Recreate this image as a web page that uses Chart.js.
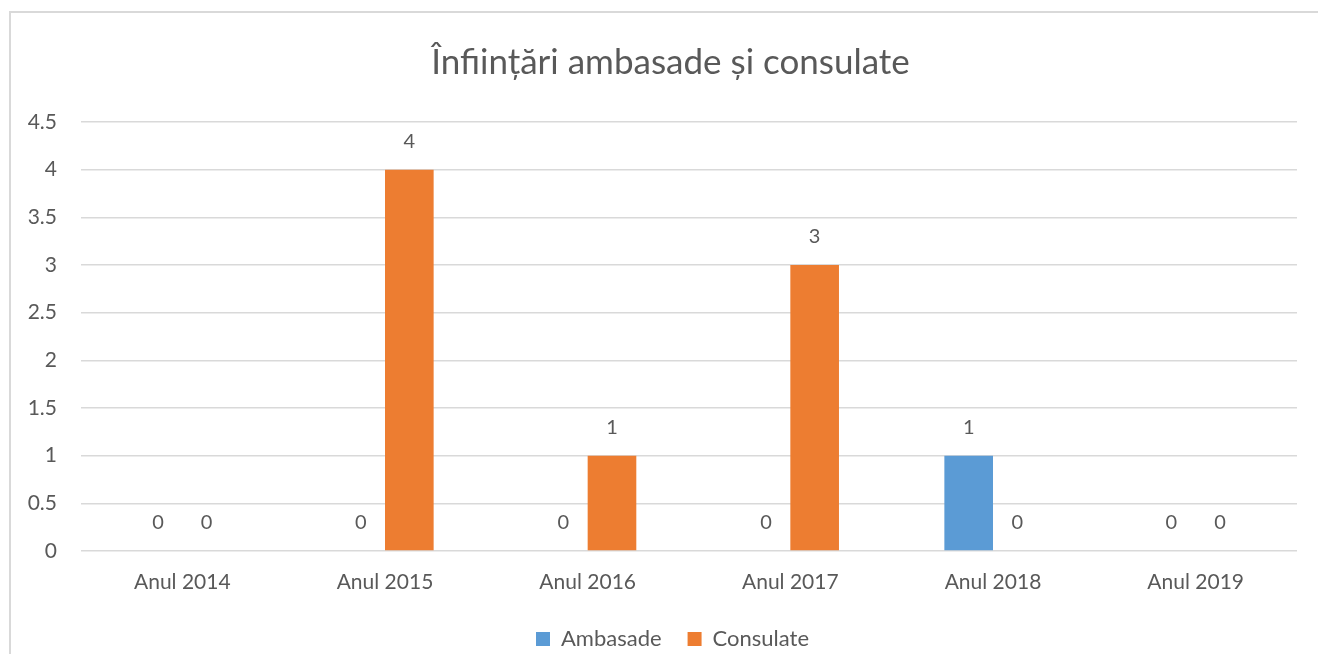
<!DOCTYPE html>
<html>
<head>
<meta charset="utf-8">
<script src="https://cdn.jsdelivr.net/npm/chart.js@4"></script>
<style>
    body { margin: 0; background: #fff; overflow: hidden; }
    #cadru {
        position: absolute; left: 9px; top: 11px; width: 1330px; height: 680px;
        border-left: 2px solid #d9d9d9; border-top: 2px solid #d9d9d9;
    }
    #zona { position: absolute; left: 0; top: 0; width: 1318px; height: 660px; }
</style>
</head>
<body>
<div id="cadru"></div>
<div id="zona"><canvas id="infiintariChart"></canvas></div>
<script>
// Datele graficului
const ani = ['Anul 2014', 'Anul 2015', 'Anul 2016', 'Anul 2017', 'Anul 2018', 'Anul 2019'];
const ambasade = [0, 0, 0, 0, 1, 0];
const consulate = [0, 4, 1, 3, 0, 0];
const titlu = 'Înființări ambasade și consulate';

const culoareText = '#595959';
const font = 'Lato, Carlito, Calibri, sans-serif';

// Plugin pentru etichetele cu valori deasupra barelor
const eticheteValori = {
    id: 'eticheteValori',
    afterDatasetsDraw(chart) {
        const ctx = chart.ctx;
        ctx.save();
        ctx.fillStyle = culoareText;
        ctx.font = '20px ' + font;
        ctx.textAlign = 'center';
        ctx.textBaseline = 'middle';
        chart.data.datasets.forEach((ds, i) => {
            chart.getDatasetMeta(i).data.forEach((bar, j) => {
                ctx.fillText(String(ds.data[j]), bar.x, bar.y - 28);
            });
        });
        ctx.restore();
    }
};

// Titlul si legenda sunt centrate putin mai la dreapta
const decalaj = {
    id: 'decalaj',
    afterLayout(chart) {
        if (chart.titleBlock) chart.titleBlock.left += 44;
        if (chart.legend) chart.legend.left += 48;
    }
};

const ctx = document.getElementById('infiintariChart').getContext('2d');
new Chart(ctx, {
    type: 'bar',
    data: {
        labels: ani,
        datasets: [{
            label: 'Ambasade',
            data: ambasade,
            backgroundColor: '#5b9bd5'
        }, {
            label: 'Consulate',
            data: consulate,
            backgroundColor: '#ed7d31'
        }]
    },
    options: {
        responsive: true,
        maintainAspectRatio: false,
        animation: false,
        categoryPercentage: 0.48,
        barPercentage: 1,
        layout: { padding: { left: 0, right: 21, top: 0, bottom: 0 } },
        plugins: {
            title: {
                display: true,
                text: titlu,
                color: culoareText,
                font: { family: font, size: 35, weight: 'normal' },
                padding: { top: 42, bottom: 38 }
            },
            legend: {
                position: 'bottom',
                labels: {
                    color: culoareText,
                    font: { family: font, size: 22 },
                    boxWidth: 14,
                    boxHeight: 14,
                    padding: 26
                }
            },
            tooltip: { enabled: false }
        },
        scales: {
            x: {
                afterFit(scale) { scale.height = 51; },
                grid: { display: false },
                border: { display: false },
                ticks: { color: culoareText, font: { family: font, size: 21 }, padding: 11 }
            },
            y: {
                min: 0,
                max: 4.5,
                afterFit(scale) { scale.width = 81; },
                grid: { color: '#d9d9d9', lineWidth: 1.5, drawTicks: false },
                border: { display: false },
                ticks: {
                    stepSize: 0.5,
                    color: culoareText,
                    font: { family: font, size: 21 },
                    padding: 24,
                    callback: v => String(v)
                }
            }
        }
    },
    plugins: [eticheteValori, decalaj]
});
</script>
</body>
</html>
